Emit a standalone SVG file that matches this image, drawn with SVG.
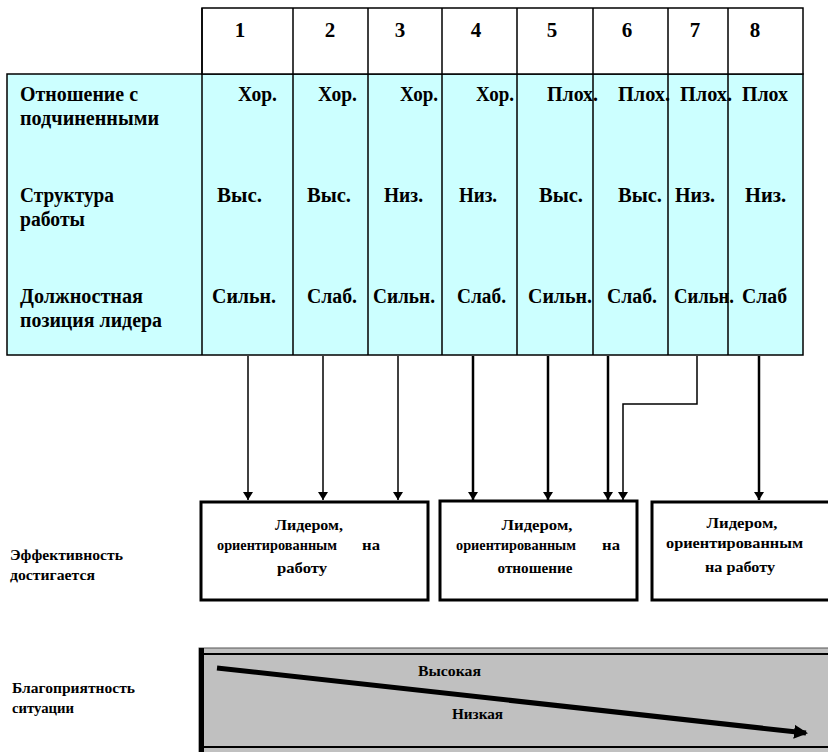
<svg xmlns="http://www.w3.org/2000/svg" width="828" height="752" viewBox="0 0 828 752">
<style>
.t{font-weight:bold;fill:#000}
.tb{font-size:20px}
.th{font-size:21px}
.ts{font-size:15px}
.c{text-anchor:middle}
.grid{stroke:#000;stroke-width:1.5}
.box{fill:#fff;stroke:#000;stroke-width:3}
.ar{stroke:#000;fill:none}
</style>
<defs>
<marker id="ah" markerUnits="userSpaceOnUse" markerWidth="12" markerHeight="10" refX="6" refY="9" orient="0" viewBox="0 0 12 10">
<path d="M1,1 L11,1 L6,9 Z" fill="#000"/>
</marker>
<marker id="big" markerUnits="userSpaceOnUse" markerWidth="16" markerHeight="16" refX="12" refY="8" orient="auto" viewBox="0 0 16 16">
<path d="M0,1 L14,8 L0,15 Z" fill="#000"/>
</marker>
</defs>

<g id="table" font-family="Liberation Serif">
<rect x="7" y="74" width="796" height="281" style="fill:#CCFFFF" class="grid"/>
<rect x="202" y="8" width="601" height="66" style="fill:#FFFFFF" class="grid"/>
<path class="grid" fill="none" d="M202,8V355M293,8V355M368,8V355M442,8V355M517,8V355M593,8V355M668,8V355M728,8V355"/>
<g class="t th c" font-family="Liberation Serif">
<text x="240" y="37">1</text>
<text x="330" y="37">2</text>
<text x="400" y="37">3</text>
<text x="476" y="37">4</text>
<text x="552" y="37">5</text>
<text x="627" y="37">6</text>
<text x="695" y="37">7</text>
<text x="755" y="37">8</text>
</g>
<g class="t tb" font-family="Liberation Serif">
<text x="20" y="101" textLength="118" lengthAdjust="spacingAndGlyphs">Отношение с</text>
<text x="20" y="125" textLength="139" lengthAdjust="spacingAndGlyphs">подчиненными</text>
<text x="20" y="202" textLength="94" lengthAdjust="spacingAndGlyphs">Структура</text>
<text x="20" y="226" textLength="65" lengthAdjust="spacingAndGlyphs">работы</text>
<text x="20" y="303" textLength="123" lengthAdjust="spacingAndGlyphs">Должностная</text>
<text x="20" y="327" textLength="142" lengthAdjust="spacingAndGlyphs">позиция лидера</text>

<text x="238" y="101" textLength="39" lengthAdjust="spacingAndGlyphs">Хор.</text>
<text x="318" y="101" textLength="39" lengthAdjust="spacingAndGlyphs">Хор.</text>
<text x="400" y="101" textLength="38" lengthAdjust="spacingAndGlyphs">Хор.</text>
<text x="476" y="101" textLength="38" lengthAdjust="spacingAndGlyphs">Хор.</text>
<text x="547" y="101" textLength="51" lengthAdjust="spacingAndGlyphs">Плох.</text>
<text x="618" y="101" textLength="52" lengthAdjust="spacingAndGlyphs">Плох.</text>
<text x="680" y="101" textLength="52" lengthAdjust="spacingAndGlyphs">Плох.</text>
<text x="742" y="101" textLength="46" lengthAdjust="spacingAndGlyphs">Плох</text>

<text x="217" y="202" textLength="45" lengthAdjust="spacingAndGlyphs">Выс.</text>
<text x="307" y="202" textLength="44" lengthAdjust="spacingAndGlyphs">Выс.</text>
<text x="384" y="202" textLength="39" lengthAdjust="spacingAndGlyphs">Низ.</text>
<text x="459" y="202" textLength="38" lengthAdjust="spacingAndGlyphs">Низ.</text>
<text x="539" y="202" textLength="44" lengthAdjust="spacingAndGlyphs">Выс.</text>
<text x="618" y="202" textLength="44" lengthAdjust="spacingAndGlyphs">Выс.</text>
<text x="675" y="202" textLength="40" lengthAdjust="spacingAndGlyphs">Низ.</text>
<text x="745" y="202" textLength="41" lengthAdjust="spacingAndGlyphs">Низ.</text>

<text x="212" y="303" textLength="64" lengthAdjust="spacingAndGlyphs">Сильн.</text>
<text x="307" y="303" textLength="50" lengthAdjust="spacingAndGlyphs">Слаб.</text>
<text x="373" y="303" textLength="62" lengthAdjust="spacingAndGlyphs">Сильн.</text>
<text x="457" y="303" textLength="49" lengthAdjust="spacingAndGlyphs">Слаб.</text>
<text x="528" y="303" textLength="64" lengthAdjust="spacingAndGlyphs">Сильн.</text>
<text x="607" y="303" textLength="50" lengthAdjust="spacingAndGlyphs">Слаб.</text>
<text x="674" y="303" textLength="60" lengthAdjust="spacingAndGlyphs">Сильн.</text>
<text x="742" y="303" textLength="45" lengthAdjust="spacingAndGlyphs">Слаб</text>
</g>
</g>

<g id="connectors">
<path class="ar" stroke-width="1.5" d="M248,356V500" marker-end="url(#ah)"/>
<path class="ar" stroke-width="1.5" d="M323,356V500" marker-end="url(#ah)"/>
<path class="ar" stroke-width="1.5" d="M398,356V500" marker-end="url(#ah)"/>
<path class="ar" stroke-width="2.5" d="M473,356V500" marker-end="url(#ah)"/>
<path class="ar" stroke-width="2.5" d="M548,356V500" marker-end="url(#ah)"/>
<path class="ar" stroke-width="2.5" d="M608,356V500" marker-end="url(#ah)"/>
<path class="ar" stroke-width="1.5" d="M697,356V404H623V500" marker-end="url(#ah)"/>
<path class="ar" stroke-width="2.5" d="M759,356V500" marker-end="url(#ah)"/>
</g>

<g id="box1">
<rect class="box" x="201" y="502" width="227" height="98"/>
<g class="t ts" font-family="Liberation Serif">
<text x="309" y="530" class="c" textLength="68" lengthAdjust="spacingAndGlyphs">Лидером,</text>
<text x="217" y="550" textLength="120" lengthAdjust="spacingAndGlyphs">ориентированным</text>
<text x="362" y="550" textLength="18" lengthAdjust="spacingAndGlyphs">на</text>
<text x="302" y="573" class="c" textLength="50" lengthAdjust="spacingAndGlyphs">работу</text>
</g>
</g>

<g id="box2">
<rect class="box" x="440" y="501" width="197" height="99"/>
<g class="t ts" font-family="Liberation Serif">
<text x="537" y="530" class="c" textLength="71" lengthAdjust="spacingAndGlyphs">Лидером,</text>
<text x="456" y="550" textLength="120" lengthAdjust="spacingAndGlyphs">ориентированным</text>
<text x="602" y="550" textLength="18" lengthAdjust="spacingAndGlyphs">на</text>
<text x="535" y="573" class="c" textLength="75" lengthAdjust="spacingAndGlyphs">отношение</text>
</g>
</g>

<g id="box3">
<rect class="box" x="652" y="502" width="200" height="98"/>
<g class="t ts" font-family="Liberation Serif">
<text x="742" y="528" class="c" textLength="71" lengthAdjust="spacingAndGlyphs">Лидером,</text>
<text x="666" y="548" textLength="137" lengthAdjust="spacingAndGlyphs">ориентированным</text>
<text x="740" y="572" class="c" textLength="70" lengthAdjust="spacingAndGlyphs">на работу</text>
</g>
</g>

<g id="label-eff" class="t ts" font-family="Liberation Serif">
<text x="10" y="560" textLength="113" lengthAdjust="spacingAndGlyphs">Эффективность</text>
<text x="10" y="580" textLength="85" lengthAdjust="spacingAndGlyphs">достигается</text>
</g>

<g id="label-fav" class="t ts" font-family="Liberation Serif">
<text x="12" y="693" textLength="123" lengthAdjust="spacingAndGlyphs">Благоприятность</text>
<text x="12" y="713" textLength="62" lengthAdjust="spacingAndGlyphs">ситуации</text>
</g>

<g id="bar">
<rect x="199" y="648" width="640" height="110" fill="#C0C0C0" stroke="#555" stroke-width="1"/>
<path d="M201,654H830" stroke="#000" stroke-width="2"/>
<path d="M201,747H830" stroke="#000" stroke-width="2"/>
<path d="M201.5,648V752" stroke="#000" stroke-width="5"/>
<path d="M217,668L806,733" stroke="#000" stroke-width="5" marker-end="url(#big)"/>
<g class="t ts" font-family="Liberation Serif">
<text x="418" y="676" textLength="63" lengthAdjust="spacingAndGlyphs">Высокая</text>
<text x="452" y="719" textLength="51" lengthAdjust="spacingAndGlyphs">Низкая</text>
</g>
</g>
</svg>
